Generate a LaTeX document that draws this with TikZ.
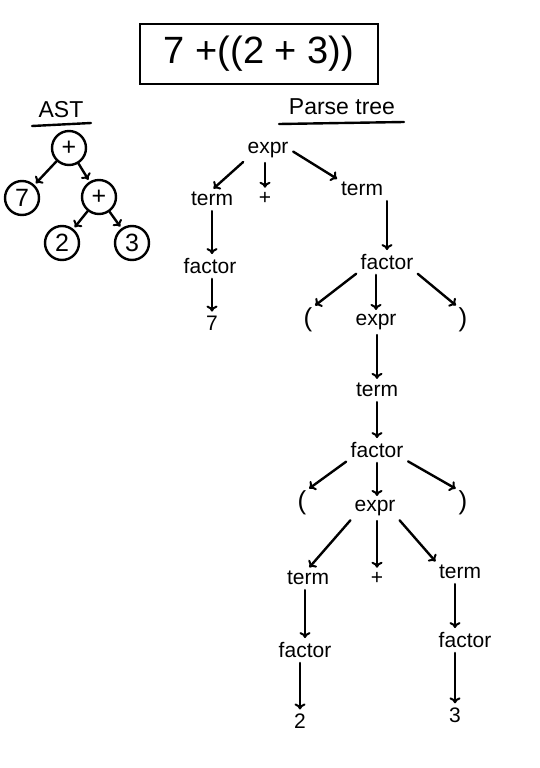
\documentclass[tikz,border=0pt]{standalone}
\usepackage{fontspec}
\setmainfont{Liberation Sans}
\usetikzlibrary{arrows.meta}
\begin{document}
\begin{tikzpicture}[x=1pt,y=-1pt,
  ink/.style={line width=2.4pt,line cap=round},
  arr/.style={ink,-{To[length=6pt,width=11pt,line width=2pt]},shorten <=3pt,shorten >=2pt},
  lbl/.style={inner sep=2pt,font=\fontsize{21}{21}\selectfont},
  par/.style={inner sep=1pt,font=\fontsize{26}{26}\selectfont},
  ast/.style={draw,circle,line width=2.4pt,minimum size=34pt,inner sep=0pt,font=\fontsize{25}{25}\selectfont}]
\useasboundingbox (0,0) rectangle (540,768);
% title box
\node[draw,line width=2.6pt,minimum width=238pt,minimum height=60pt,font=\fontsize{38}{38}\selectfont] (title) at (259,54) {7 +((2 + 3))};
% AST
\node[font=\fontsize{23}{23}\selectfont] (asthead) at (61,110) {AST};
\coordinate (au1) at (32,126); \coordinate (au2) at (91,123);
\draw[ink] (au1) -- (au2);
\node[ast] (p1) at (69,148) {+};
\node[ast] (n7) at (22,198) {7};
\node[ast] (p2) at (99,197) {+};
\node[ast] (n2) at (62,243) {2};
\node[ast] (n3) at (132,243) {3};
\draw[arr,shorten <=0pt] (p1) -- (n7);
\draw[arr,shorten <=0pt] (p1) -- (p2);
\draw[arr,shorten <=0pt] (p2) -- (n2);
\draw[arr,shorten <=0pt] (p2) -- (n3);
% Parse tree
\node[font=\fontsize{23}{23}\selectfont] (pthead) at (342,107) {Parse tree};
\coordinate (pu1) at (279,124); \coordinate (pu2) at (404,122);
\draw[ink] (pu1) -- (pu2);
\node[lbl] (e1) at (268,150) {expr};
\node[lbl] (t1) at (212,199) {term};
\node[lbl] (plus1) at (265,198) {+};
\node[lbl] (t2) at (362,189) {term};
\node[lbl] (f1) at (210,266) {factor};
\node[lbl] (seven) at (212,323) {7};
\node[lbl] (f2) at (387,262) {factor};
\node[par] (lp1) at (308,320) {(};
\node[lbl] (e2) at (376,322) {expr};
\node[par] (rp1) at (463,320) {)};
\node[lbl] (t3) at (377,390) {term};
\node[lbl] (f3) at (377,450) {factor};
\node[par] (lp2) at (302,503) {(};
\node[lbl] (e3) at (375,508) {expr};
\node[par] (rp2) at (463,503) {)};
\node[lbl] (t4) at (308,578) {term};
\node[lbl] (plus2) at (377,578) {+};
\node[lbl] (t5) at (460,572) {term};
\node[lbl] (f4) at (305,650) {factor};
\node[lbl] (f5) at (465,640) {factor};
\node[lbl] (two) at (300,721) {2};
\node[lbl] (three) at (455,715) {3};
% edges
\draw[arr] (e1.south west) -- (t1.north);
\draw[arr] (e1.south -| plus1) -- (plus1.north);
\draw[arr] (e1.east) -- (t2.north west);
\draw[arr] (t1.south) -- (t1.south |- f1.north);
\draw[arr] (f1.south -| seven) -- (seven.north);
\draw[arr] (t2.south -| f2) -- (f2.north);
\draw[arr] (f2.south west) -- (lp1.north east);
\draw[arr] (f2.south -| e2) -- (e2.north);
\draw[arr] (f2.south east) -- (rp1.north west);
\draw[arr] (e2.south -| t3) -- (t3.north);
\draw[arr] (t3.south) -- (f3.north);
\draw[arr] (f3.south west) -- (lp2.north east);
\draw[arr] (f3.south) -- (e3.north -| f3);
\draw[arr] (f3.south east) -- (rp2.north west);
\draw[arr] (e3.south west) -- (t4.north);
\draw[arr] (e3.south -| plus2) -- (plus2.north);
\draw[arr] (e3.south east) -- (t5.north west);
\draw[arr] (t4.south -| f4) -- (f4.north);
\draw[arr] (f4.south -| two) -- (two.north);
\draw[arr] (t5.south -| three) -- (f5.north -| three);
\draw[arr] (f5.south -| three) -- (three.north);
\end{tikzpicture}
\end{document}
